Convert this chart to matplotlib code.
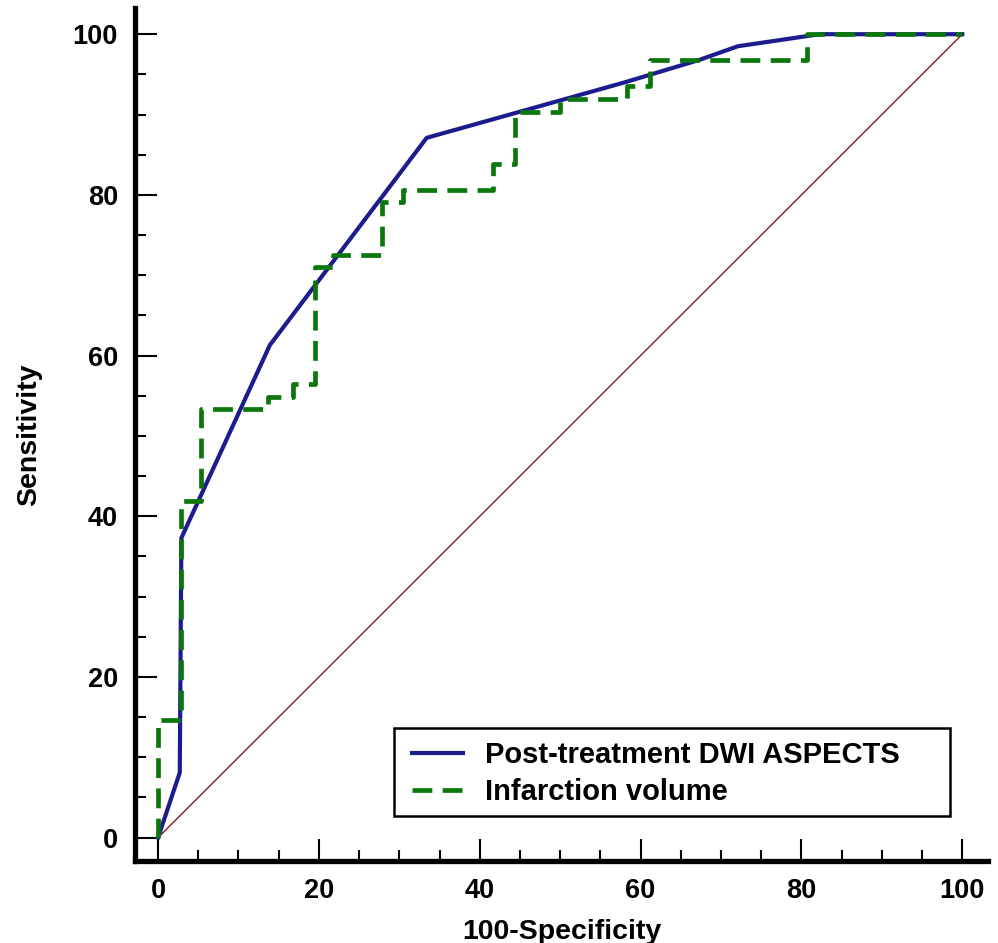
import matplotlib
matplotlib.use("Agg")
import matplotlib.pyplot as plt
from matplotlib.ticker import MultipleLocator
from matplotlib.patches import Rectangle

plt.rcParams['font.family'] = ['Liberation Sans', 'DejaVu Sans']

# ROC curve of post-treatment DWI ASPECTS
dwi_x = [0, 2.7, 2.9, 13.9, 33.4, 58, 67.3, 72.1, 82.3, 100]
dwi_y = [0, 8.1, 37.3, 61.3, 87.1, 94.0, 96.8, 98.5, 100, 100]

# ROC curve of infarction volume (step curve)
vol_x = [0, 0, 2.8, 2.8, 5.4, 5.4, 13.7, 13.7, 16.8, 16.8, 19.5, 19.5, 21.8, 21.8,
         27.8, 27.8, 30.5, 30.5, 41.7, 41.7, 44.4, 44.4, 50.0, 50.0, 58.3, 58.3,
         61.2, 61.2, 80.7, 80.7, 100]
vol_y = [0, 14.7, 14.7, 41.9, 41.9, 53.4, 53.4, 54.9, 54.9, 56.5, 56.5, 71.0, 71.0, 72.5,
         72.5, 79.1, 79.1, 80.6, 80.6, 83.8, 83.8, 90.3, 90.3, 91.9, 91.9, 93.6,
         93.6, 96.8, 96.8, 100, 100]

ref_x = [0, 100]
ref_y = [0, 100]

x_ticks = [0, 20, 40, 60, 80, 100]
y_ticks = [0, 20, 40, 60, 80, 100]

fig = plt.figure(figsize=(9.98, 9.43), dpi=100)
ax = fig.add_axes([0.135, 0.087, 0.855, 0.904])

ax.plot(ref_x, ref_y, color='#7a1f1f', lw=1.0)
ax.plot(dwi_x, dwi_y, color='#1c1c8f', lw=3.0, label='Post-treatment DWI ASPECTS')
ax.plot(vol_x, vol_y, color='#0b770b', lw=3.4, dashes=(4.2, 2.2),
        label='Infarction volume')

ax.set_xlim(-2.9, 103.2)
ax.set_ylim(-2.9, 103.2)

ax.spines['top'].set_visible(False)
ax.spines['right'].set_visible(False)
for s in ['left', 'bottom']:
    ax.spines[s].set_linewidth(3.8)

ax.set_xticks(x_ticks)
ax.set_yticks(y_ticks)
ax.xaxis.set_minor_locator(MultipleLocator(5))
ax.yaxis.set_minor_locator(MultipleLocator(5))
ax.tick_params(which='major', direction='in', length=16, width=1.5, labelsize=19.5, pad=12)
ax.tick_params(which='minor', direction='in', length=8, width=1.5)
for lab in ax.get_xticklabels() + ax.get_yticklabels():
    lab.set_fontweight('bold')

ax.set_xlabel('100-Specificity', fontsize=20.5, fontweight='bold', labelpad=11)
ax.set_ylabel('Sensitivity', fontsize=20.5, fontweight='bold', labelpad=22)

# legend box is wider than its content in the original, so draw it apart
ax.add_patch(Rectangle((0.3036, 0.0528), 0.652, 0.1032, transform=ax.transAxes,
                       fill=False, edgecolor='black', lw=1.8, zorder=5))
leg = ax.legend(loc='upper left', bbox_to_anchor=(0.3247, 0.1405), fontsize=21,
                frameon=False, handlelength=1.75, borderpad=0,
                labelspacing=0.3, handletextpad=0.75, borderaxespad=0)
for t in leg.get_texts():
    t.set_fontweight('bold')

fig.savefig('out.png', dpi=100)
